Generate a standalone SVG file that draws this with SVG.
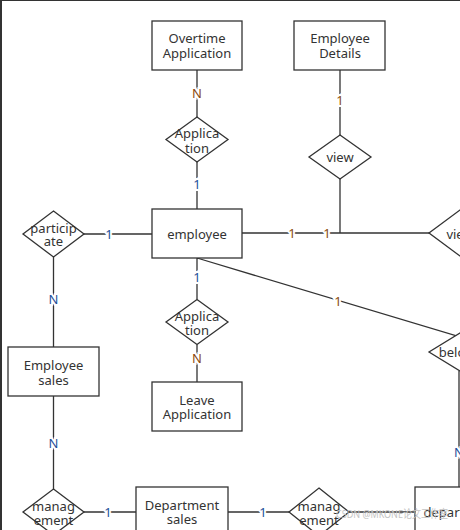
<svg xmlns="http://www.w3.org/2000/svg" width="460" height="530" viewBox="0 0 460 530">
<style>
.shape{fill:#fff;stroke:#333;stroke-width:1.3}
.t{font-family:"Noto Sans","Liberation Sans",sans-serif;font-size:13px;fill:#333;text-anchor:middle;dominant-baseline:central}
.ln{stroke:#333;stroke-width:1.3;fill:none}
.lb{font-family:"Noto Sans","Liberation Sans",sans-serif;font-size:13px;text-anchor:middle;dominant-baseline:central;stroke:#fff;stroke-width:4;paint-order:stroke}
.o{fill:#8a4a10}
.b{fill:#1f4f9a}
</style>
<rect x="0" y="0" width="460" height="530" fill="#fff"/>
<rect x="0" y="0" width="2" height="530" fill="#333"/>
<rect x="0" y="0" width="460" height="1" fill="#333"/>
<g id="connectors">
<path class="ln" d="M197 70V117M197 162V209M340 70V135M340 179V233M242 233H429M84 234H152M53.5 257V347M53.5 396V489M197 258V299.5M197 344.5V382M197 258L460 337M459 371V487M84 512H136M228 512H289M349 512H415"/>
<text class="lb o" x="197" y="93">N</text>
<text class="lb b" x="197" y="184">1</text>
<text class="lb o" x="340" y="100">1</text>
<text class="lb o" x="292" y="233">1</text>
<text class="lb o" x="327" y="233">1</text>
<text class="lb b" x="109" y="234">1</text>
<text class="lb b" x="53.5" y="299">N</text>
<text class="lb b" x="53.5" y="443">N</text>
<text class="lb b" x="197" y="277">1</text>
<text class="lb o" x="197" y="358">N</text>
<text class="lb o" x="338" y="301">1</text>
<text class="lb b" x="459" y="452">N</text>
<text class="lb b" x="108" y="512">1</text>
<text class="lb b" x="263" y="512">1</text>
</g>
<g id="overtime"><rect class="shape" x="152" y="21" width="90" height="49"/><text class="t" x="197" y="38">Overtime</text><text class="t" x="197" y="53">Application</text></g>
<g id="details"><rect class="shape" x="294" y="21" width="91" height="49"/><text class="t" x="340" y="38">Employee</text><text class="t" x="340" y="53">Details</text></g>
<g id="employee"><rect class="shape" x="152" y="209" width="90" height="49"/><text class="t" x="197" y="234">employee</text></g>
<g id="empsales"><rect class="shape" x="8" y="347" width="91" height="49"/><text class="t" x="53.5" y="365">Employee</text><text class="t" x="53.5" y="380">sales</text></g>
<g id="leave"><rect class="shape" x="152" y="382" width="90" height="49"/><text class="t" x="197" y="400">Leave</text><text class="t" x="197" y="414">Application</text></g>
<g id="deptsales"><rect class="shape" x="136" y="487" width="92" height="49"/><text class="t" x="182" y="505">Department</text><text class="t" x="182" y="519">sales</text></g>
<g id="department"><rect class="shape" x="415" y="487" width="90" height="49"/><text class="t" x="460" y="512">department</text></g>
<g id="app1"><path class="shape" d="M197 117L228 139.5L197 162L166 139.5Z"/><text class="t" x="197" y="133">Applica</text><text class="t" x="197" y="148">tion</text></g>
<g id="view1"><path class="shape" d="M340 135L371 157L340 179L309 157Z"/><text class="t" x="340" y="157">view</text></g>
<g id="participate"><path class="shape" d="M53.5 211L84 234L53.5 257L23 234Z"/><text class="t" x="53.5" y="228">particip</text><text class="t" x="53.5" y="241">ate</text></g>
<g id="view2"><path class="shape" d="M460 210L491 233L460 256L429 233Z"/><text class="t" x="460" y="234">view</text></g>
<g id="app2"><path class="shape" d="M197 299.5L228 322L197 344.5L166 322Z"/><text class="t" x="197" y="316">Applica</text><text class="t" x="197" y="330">tion</text></g>
<g id="belong"><path class="shape" d="M460 333L491 352L460 371L429 352Z"/><text class="t" x="460" y="352">belong</text></g>
<g id="manage1"><path class="shape" d="M53.5 489L84 512L53.5 535L23 512Z"/><text class="t" x="53.5" y="506">manag</text><text class="t" x="53.5" y="520">ement</text></g>
<g id="manage2"><path class="shape" d="M319 488L349 512L319 536L289 512Z"/><text class="t" x="319" y="506">manag</text><text class="t" x="319" y="520">ement</text></g>
<text x="336" y="518" font-family="'Noto Sans','Noto Sans CJK SC',sans-serif" font-size="11" fill="#c4c4c4" textLength="112" lengthAdjust="spacingAndGlyphs">CSDN @MKONE论文工作室</text>
</svg>
